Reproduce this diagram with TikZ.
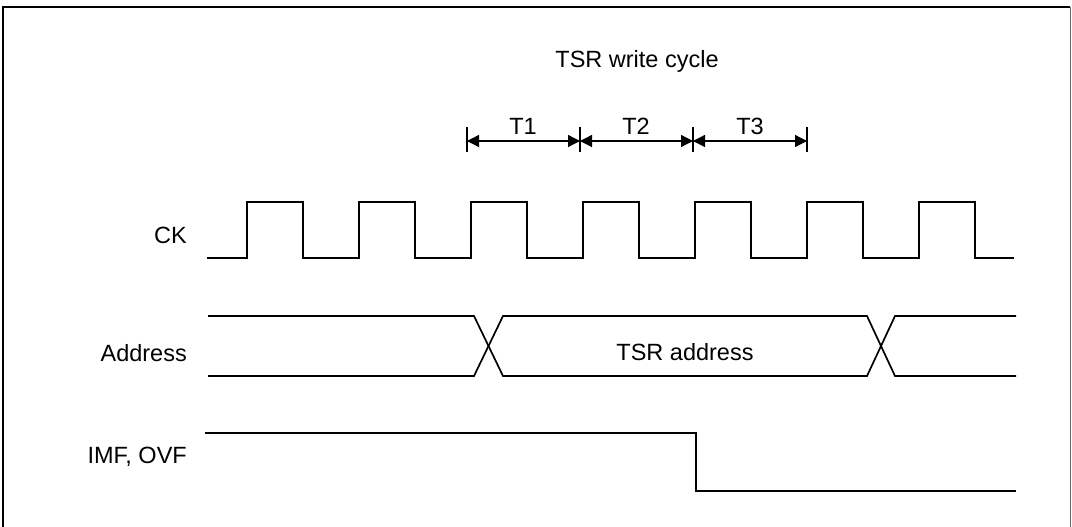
\documentclass[tikz,border=0pt]{standalone}
\usepackage{fontspec}
\setmainfont{Liberation Sans}
\usetikzlibrary{arrows.meta}
\begin{document}
\begin{tikzpicture}[x=1pt,y=-1pt,
  wave/.style={line width=1.7pt, line join=miter},
  lbl/.style={font=\fontsize{23.5}{28}\selectfont, inner sep=0pt},
  dimarrow/.style={line width=1.3pt, {Triangle[length=12pt,width=12pt]}-{Triangle[length=12pt,width=12pt]}},
  tickmark/.style={line width=1.3pt},
  frame/.style={line width=1.3pt}]
\useasboundingbox (0,0) rectangle (1072,527);
% frame
\draw[frame] (3,530) -- (3,7) -- (1070,7);
\draw[line width=0.8pt, black!60] (1070,7) -- (1070,530);
% title
\node[lbl, anchor=base] (title) at (637,68) {TSR write cycle};
% tick coordinates
\coordinate (k0) at (467,141);
\coordinate (k1) at (580,141);
\coordinate (k2) at (693,141);
\coordinate (k3) at (807,141);
\foreach \k in {k0,k1,k2,k3} {
  \draw[tickmark] ([yshift=-11pt]\k) -- ([yshift=14pt]\k);
}
\draw[dimarrow] (k0) -- (k1);
\draw[dimarrow] (k1) -- (k2);
\draw[dimarrow] (k2) -- (k3);
\node[lbl, anchor=base] (t1) at (523,135) {T1};
\node[lbl, anchor=base] (t2) at (636,135) {T2};
\node[lbl, anchor=base] (t3) at (750,135) {T3};
% signal labels
\node[lbl, anchor=base east] (ck) at (187,243) {CK};
\node[lbl, anchor=base east] (addr) at (187,361) {Address};
\node[lbl, anchor=base east] (imf) at (187,463) {IMF, OVF};
% CK waveform
\draw[wave] (207,258) foreach \i in {0,...,6} { -- ({247+112*\i},258) -- ({247+112*\i},202) -- ({303+112*\i},202) -- ({303+112*\i},258) } -- (1014,258);
% Address bus
\draw[wave] (208,316) -- (474,316) -- (503,376) -- (867,376) -- (895,316) -- (1016,316);
\draw[wave] (208,376) -- (474,376) -- (503,316) -- (867,316) -- (895,376) -- (1016,376);
\node[lbl, anchor=base] (tsra) at (685,360) {TSR address};
% IMF, OVF
\draw[wave] (205,433) -- (696,433) -- (696,491) -- (1016,491);
\end{tikzpicture}
\end{document}
